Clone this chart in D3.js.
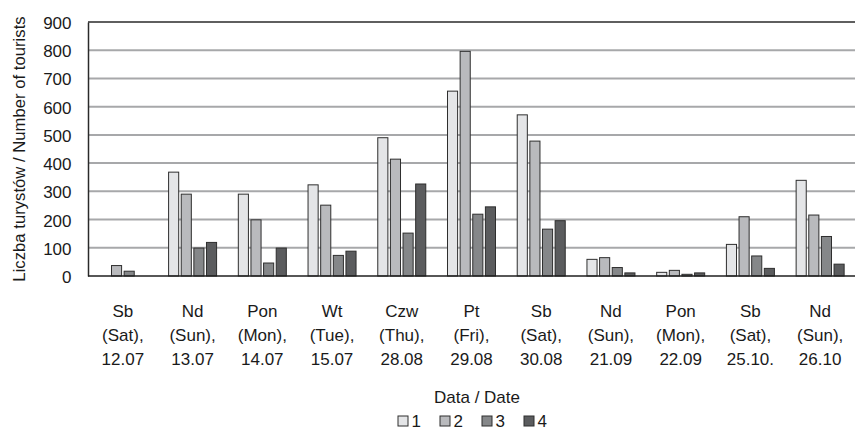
<!DOCTYPE html>
<html>
<head>
<meta charset="utf-8">
<script src="https://cdn.jsdelivr.net/npm/d3@7/dist/d3.min.js"></script>
<style>
  html, body { margin: 0; padding: 0; background: #fff; }
  svg { display: block; }
  text { font-family: "Liberation Sans", Arial, sans-serif; fill: #1a1a1a; }
</style>
</head>
<body>
<svg id="chart" width="855" height="431"></svg>
<script>
// ---- data ----
const dayPl   = ["Sb", "Nd", "Pon", "Wt", "Czw", "Pt", "Sb", "Nd", "Pon", "Sb", "Nd"];
const dayEn   = ["(Sat),", "(Sun),", "(Mon),", "(Tue),", "(Thu),", "(Fri),", "(Sat),", "(Sun),", "(Mon),", "(Sat),", "(Sun),"];
const dates   = ["12.07", "13.07", "14.07", "15.07", "28.08", "29.08", "30.08", "21.09", "22.09", "25.10.", "26.10"];
const seriesNames = ["1", "2", "3", "4"];
const series1 = [0, 368, 290, 323, 490, 655, 571, 59, 13, 112, 339];
const series2 = [37, 290, 199, 251, 414, 796, 478, 65, 20, 210, 216];
const series3 = [17, 99, 46, 73, 152, 219, 166, 30, 6, 71, 140];
const series4 = [0, 119, 99, 88, 326, 245, 196, 11, 11, 27, 42];
const yTicks  = [0, 100, 200, 300, 400, 500, 600, 700, 800, 900];
const yTitle  = "Liczba turystów / Number of tourists";
const xTitle  = "Data / Date";

const allSeries = [series1, series2, series3, series4];
const colors = ["#e4e5e7", "#b9babd", "#858789", "#5b5c5e"];

const svg = d3.select("#chart");
const pL = 88, pR = 855, pT = 22, pB = 276;
const FS = 17;

const x0 = d3.scaleBand().domain(d3.range(dates.length)).range([pL, pR]).padding(0);
const bw = x0.bandwidth();
const gw = 48;
const x1 = d3.scaleBand().domain(seriesNames).range([(bw - gw) / 2, (bw + gw) / 2]).paddingInner(0.2);
const y = d3.scaleLinear().domain([0, 900]).range([pB, pT]);

// gridlines
svg.append("g").selectAll("line").data(yTicks.filter(t => t > 0 && t < 900)).join("line")
  .attr("x1", pL).attr("x2", pR)
  .attr("y1", d => y(d)).attr("y2", d => y(d))
  .attr("stroke", "#a7a8aa").attr("stroke-width", 2);

// top border
svg.append("line").attr("x1", pL).attr("x2", pR).attr("y1", y(900)).attr("y2", y(900))
  .attr("stroke", "#2a2a2a").attr("stroke-width", 1.5);

// y axis
const yAxis = d3.axisLeft(y).tickValues(yTicks).tickSize(0).tickPadding(16.5);
const yg = svg.append("g").attr("transform", `translate(${pL},0)`).call(yAxis);
yg.select(".domain").attr("stroke", "#2a2a2a").attr("stroke-width", 1.5);
yg.selectAll("text").attr("font-size", FS).attr("font-family", "Liberation Sans, Arial, sans-serif")
  .attr("fill", "#1a1a1a").attr("dy", "0.38em");

// bars
const groups = svg.append("g").selectAll("g").data(d3.range(dates.length)).join("g")
  .attr("transform", i => `translate(${x0(i)},0)`);
groups.selectAll("rect")
  .data(i => seriesNames.map((s, k) => ({ s, k, v: allSeries[k][i] })).filter(d => d.v > 0))
  .join("rect")
  .attr("x", d => x1(d.s)).attr("width", x1.bandwidth())
  .attr("y", d => y(d.v)).attr("height", d => y(0) - y(d.v))
  .attr("fill", d => colors[d.k])
  .attr("stroke", "#2e2e2e").attr("stroke-width", 1);

// x axis line
svg.append("line").attr("x1", pL).attr("x2", pR).attr("y1", y(0)).attr("y2", y(0))
  .attr("stroke", "#1f1f1f").attr("stroke-width", 1.5);

// x labels
const xl = svg.append("g").selectAll("text").data(d3.range(dates.length)).join("text")
  .attr("x", i => x0(i) + bw / 2)
  .attr("y", 317)
  .attr("text-anchor", "middle")
  .attr("font-size", FS);
xl.append("tspan").attr("x", i => x0(i) + bw / 2).attr("dy", 0).text(i => dayPl[i]);
xl.append("tspan").attr("x", i => x0(i) + bw / 2).attr("dy", 24).text(i => dayEn[i]);
xl.append("tspan").attr("x", i => x0(i) + bw / 2).attr("dy", 24).text(i => dates[i]);

// y title
svg.append("text")
  .attr("transform", `translate(25,149) rotate(-90)`)
  .attr("text-anchor", "middle").attr("font-size", 16.7).text(yTitle);

// x title
svg.append("text").attr("x", 477).attr("y", 403).attr("text-anchor", "middle")
  .attr("font-size", FS).text(xTitle);

// legend
const lg = svg.append("g").selectAll("g").data(seriesNames).join("g")
  .attr("transform", (d, k) => `translate(${397.5 + k * 42},${415.5})`);
lg.append("rect").attr("x", 0.5).attr("y", 0.5).attr("width", 10).attr("height", 10)
  .attr("fill", (d, k) => colors[k]).attr("stroke", "#2e2e2e").attr("stroke-width", 1);
lg.append("text").attr("x", 14).attr("y", 11).attr("font-size", FS).text(d => d);
</script>
</body>
</html>
